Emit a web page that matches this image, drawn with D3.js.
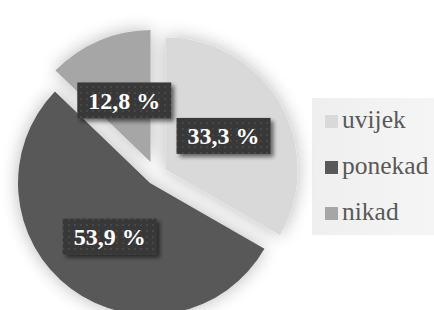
<!DOCTYPE html>
<html><head><meta charset="utf-8">
<script src="https://cdn.jsdelivr.net/npm/d3@7/dist/d3.min.js"></script>
<style>html,body{margin:0;padding:0;background:#fff;overflow:hidden} text{font-family:"Liberation Serif", "Times New Roman", serif;}</style>
</head><body><svg id="c" width="434" height="310"></svg>
<script>
const categories = ["uvijek", "ponekad", "nikad"];
const values = [33.3, 53.9, 12.8];
const colors = ["#d9d9d9", "#595959", "#a6a6a6"];

const W = 434, H = 310;
const cx = 156, cy = 175, R = 132;
const explode = [11, 10, 14];
const labelR = 67;

const svg = d3.select("#c");
const defs = svg.append("defs");

const sh = defs.append("filter").attr("id","pieShadow").attr("x","-30%").attr("y","-30%").attr("width","160%").attr("height","160%");
sh.append("feGaussianBlur").attr("in","SourceAlpha").attr("stdDeviation",9).attr("result","b");
sh.append("feComponentTransfer").attr("in","b").attr("result","b2").append("feFuncA").attr("type","linear").attr("slope",0.28);
const m1 = sh.append("feMerge"); m1.append("feMergeNode").attr("in","b2"); m1.append("feMergeNode").attr("in","SourceGraphic");

const bs = defs.append("filter").attr("id","boxShadow").attr("x","-20%").attr("y","-20%").attr("width","150%").attr("height","160%");
bs.append("feGaussianBlur").attr("in","SourceAlpha").attr("stdDeviation",2).attr("result","b");
bs.append("feOffset").attr("in","b").attr("dx",3).attr("dy",3).attr("result","o");
bs.append("feComponentTransfer").attr("in","o").attr("result","o2").append("feFuncA").attr("type","linear").attr("slope",0.55);
const m2 = bs.append("feMerge"); m2.append("feMergeNode").attr("in","o2"); m2.append("feMergeNode").attr("in","SourceGraphic");

const pat = defs.append("pattern").attr("id","dots").attr("width",6).attr("height",6).attr("patternUnits","userSpaceOnUse");
pat.append("rect").attr("width",6).attr("height",6).attr("fill","#383838");
pat.append("circle").attr("cx",3).attr("cy",3).attr("r",1).attr("fill","#4a4a4a");

const lg = defs.append("linearGradient").attr("id","legGrad").attr("x1",0).attr("x2",1).attr("y1",0).attr("y2",0);
lg.append("stop").attr("offset","0%").attr("stop-color","#efefef");
lg.append("stop").attr("offset","100%").attr("stop-color","#f5f5f5");

svg.append("rect").attr("x",312).attr("y",98).attr("width",W-312).attr("height",137).attr("fill","url(#legGrad)");

const pie = d3.pie().sort(null).value(d => d.v);
const data = pie(categories.map((c,i) => ({c, v: values[i], i})));
const arc = d3.arc().innerRadius(0).outerRadius(R);

const g = svg.append("g").attr("filter","url(#pieShadow)");
function off(d, k) {
  const a = (d.startAngle + d.endAngle) / 2;
  return [Math.sin(a) * k, -Math.cos(a) * k];
}
g.selectAll("path").data(data).join("path")
  .attr("d", arc)
  .attr("fill", d => colors[d.data.i])
  .attr("transform", d => { const o = off(d, explode[d.data.i]); return `translate(${cx+o[0]},${cy+o[1]})`; });

const fmt = v => d3.format(".1f")(v).replace(".", ",") + " %";

const lab = svg.append("g");
data.forEach(d => {
  const o = off(d, explode[d.data.i]);
  const l = off(d, labelR);
  const x = cx + o[0] + l[0], y = cy + o[1] + l[1];
  const grp = lab.append("g");
  const t = grp.append("text").attr("x", x).attr("y", y + 8.5)
    .attr("text-anchor","middle")
    .attr("font-weight","bold").attr("font-size",24)
    .attr("fill","#fff").text(fmt(d.data.v));
  const bw = t.node().getComputedTextLength() + 22;
  grp.insert("rect","text").attr("x", x - bw/2).attr("y", y - 18).attr("width", bw).attr("height", 36)
    .attr("fill","url(#dots)").attr("filter","url(#boxShadow)");
});

const leg = svg.append("g");
categories.forEach((c, i) => {
  const by = 128 + i * 46;
  leg.append("rect").attr("x",325).attr("y",by-13).attr("width",13).attr("height",13).attr("fill",colors[i]);
  leg.append("text").attr("x",342).attr("y",by)
    .attr("font-size",25.5).attr("fill","#595959").text(c);
});
</script></body></html>
